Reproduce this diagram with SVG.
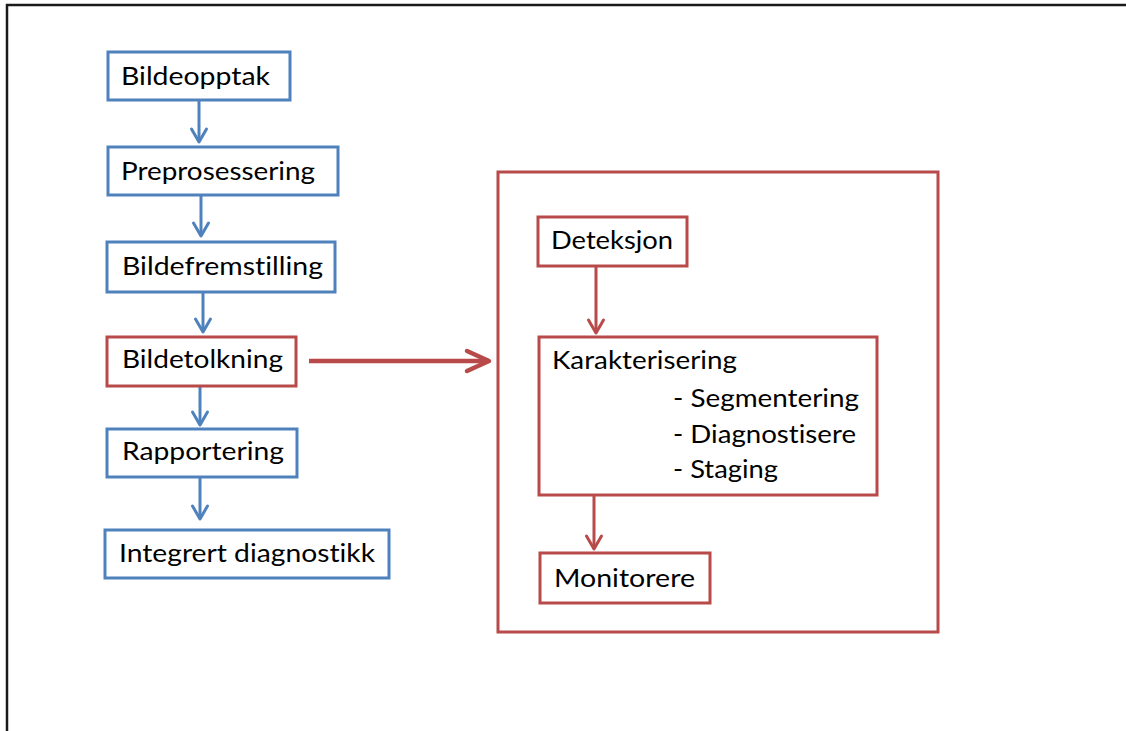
<svg xmlns="http://www.w3.org/2000/svg" width="1126" height="731" viewBox="0 0 1126 731">
<style>
  .bg { fill: #ffffff; }
  .frame { fill: none; stroke: #1a1a1a; stroke-width: 2.5; }
  .nb { fill: #ffffff; stroke: #4F81BD; stroke-width: 3; }
  .nr { fill: #ffffff; stroke: #B84A4A; stroke-width: 3; }
  .panel { fill: none; stroke: #B84A4A; stroke-width: 3; }
  .t { font-family: Lato, "Open Sans", "Liberation Sans", sans-serif; font-size: 25.5px; fill: #000000; font-variant-ligatures: none; }
  .cb { stroke: #4F81BD; stroke-width: 3; fill: none; }
  .cr { stroke: #B84A4A; stroke-width: 3; fill: none; }
  .crb { stroke: #B84A4A; stroke-width: 4.5; fill: none; }
</style>
<defs>
  <marker id="ab" markerUnits="userSpaceOnUse" viewBox="-16 -10 20 20" markerWidth="20" markerHeight="20" refX="0" refY="0" orient="auto">
    <path d="M-13,-7.5 L0,0 L-13,7.5" fill="none" stroke="#4F81BD" stroke-width="3" stroke-linecap="round" stroke-linejoin="round"/>
  </marker>
  <marker id="ar" markerUnits="userSpaceOnUse" viewBox="-16 -10 20 20" markerWidth="20" markerHeight="20" refX="0" refY="0" orient="auto">
    <path d="M-13,-7.5 L0,0 L-13,7.5" fill="none" stroke="#B84A4A" stroke-width="3" stroke-linecap="round" stroke-linejoin="round"/>
  </marker>
  <marker id="arb" markerUnits="userSpaceOnUse" viewBox="-26 -13 30 26" markerWidth="30" markerHeight="26" refX="0" refY="0" orient="auto">
    <path d="M-22,-10 L0,0 L-22,10" fill="none" stroke="#B84A4A" stroke-width="4.5" stroke-linecap="round" stroke-linejoin="round"/>
  </marker>
</defs>
<rect class="bg" x="0" y="0" width="1126" height="731"/>
<path class="frame" d="M7,731 L7,5 L1126,5"/>

<g id="connectors">
  <line class="cb" x1="199" y1="100" x2="199" y2="142" marker-end="url(#ab)"/>
  <line class="cb" x1="201" y1="195" x2="201" y2="236" marker-end="url(#ab)"/>
  <line class="cb" x1="203" y1="292" x2="203" y2="332" marker-end="url(#ab)"/>
  <line class="cb" x1="200" y1="386" x2="200" y2="425" marker-end="url(#ab)"/>
  <line class="cb" x1="200" y1="477" x2="200" y2="519" marker-end="url(#ab)"/>
  <line class="crb" x1="309" y1="361" x2="489" y2="361" marker-end="url(#arb)"/>
  <line class="cr" x1="596" y1="266" x2="596" y2="333" marker-end="url(#ar)"/>
  <line class="cr" x1="594" y1="495" x2="594" y2="549" marker-end="url(#ar)"/>
</g>

<g id="n-bildeopptak">
  <rect class="nb" x="108" y="52" width="182" height="48"/>
  <text class="t" x="121" y="85" textLength="149" lengthAdjust="spacingAndGlyphs">Bildeopptak</text>
</g>
<g id="n-preprosessering">
  <rect class="nb" x="108" y="147" width="230" height="48"/>
  <text class="t" x="121" y="180" textLength="194" lengthAdjust="spacingAndGlyphs">Preprosessering</text>
</g>
<g id="n-bildefremstilling">
  <rect class="nb" x="107" y="242" width="228" height="50"/>
  <text class="t" x="122" y="275" textLength="201" lengthAdjust="spacingAndGlyphs">Bildefremstilling</text>
</g>
<g id="n-bildetolkning">
  <rect class="nr" x="107" y="337" width="189" height="49"/>
  <text class="t" x="122" y="368" textLength="161" lengthAdjust="spacingAndGlyphs">Bildetolkning</text>
</g>
<g id="n-rapportering">
  <rect class="nb" x="107" y="429" width="190" height="48"/>
  <text class="t" x="122" y="460" textLength="162" lengthAdjust="spacingAndGlyphs">Rapportering</text>
</g>
<g id="n-integrert">
  <rect class="nb" x="105" y="530" width="284" height="48"/>
  <text class="t" x="119" y="562" textLength="256" lengthAdjust="spacingAndGlyphs">Integrert diagnostikk</text>
</g>

<g id="panel">
  <rect class="panel" x="498" y="172" width="440" height="460"/>
</g>
<g id="n-deteksjon">
  <rect class="nr" x="538" y="217" width="149" height="49"/>
  <text class="t" x="551" y="249" textLength="122" lengthAdjust="spacingAndGlyphs">Deteksjon</text>
</g>
<g id="n-karakterisering">
  <rect class="nr" x="539" y="337" width="338" height="158"/>
  <text class="t" x="552" y="369" textLength="185" lengthAdjust="spacingAndGlyphs">Karakterisering</text>
  <text class="t" x="673" y="407" textLength="186" lengthAdjust="spacingAndGlyphs">- Segmentering</text>
  <text class="t" x="673" y="443" textLength="183" lengthAdjust="spacingAndGlyphs">- Diagnostisere</text>
  <text class="t" x="673" y="478" textLength="105" lengthAdjust="spacingAndGlyphs">- Staging</text>
</g>
<g id="n-monitorere">
  <rect class="nr" x="540" y="553" width="170" height="50"/>
  <text class="t" x="554" y="587" textLength="141" lengthAdjust="spacingAndGlyphs">Monitorere</text>
</g>
</svg>
